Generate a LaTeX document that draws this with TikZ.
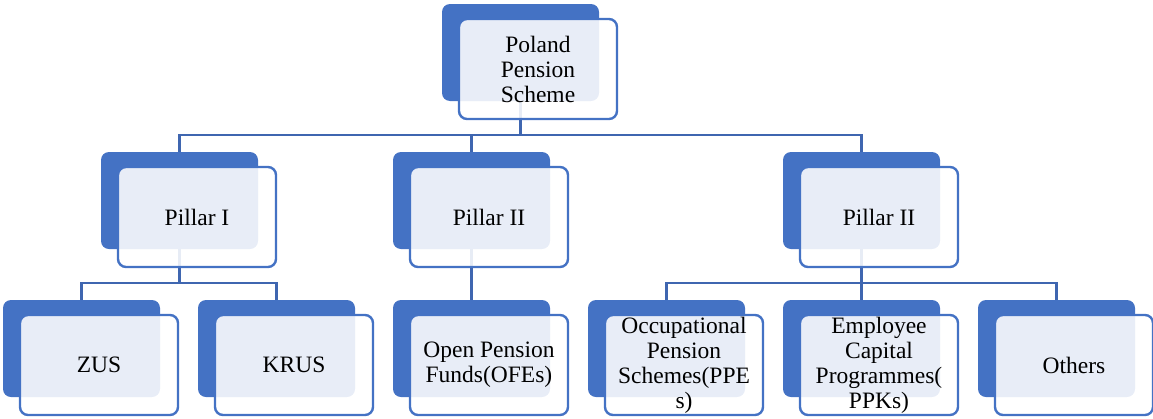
\documentclass[tikz,border=0pt]{standalone}
\usepackage{fontspec}
\setmainfont{Liberation Serif}
\begin{document}
\definecolor{accent}{HTML}{4472C4}
\definecolor{linkblue}{HTML}{3F66B0}
\begin{tikzpicture}[x=1pt,y=-1pt,
  backbox/.style={rectangle, rounded corners=8pt, fill=accent,
    minimum width=157pt, minimum height=97pt, inner sep=0pt, outer sep=0pt},
  frontbox/.style={rectangle, rounded corners=8pt, draw=accent, line width=2.4pt,
    fill=white, fill opacity=0.88, text opacity=1,
    minimum width=158pt, minimum height=100pt, inner sep=0pt, outer sep=0pt,
    align=center, font=\fontsize{23.5}{25}\selectfont},
  link/.style={draw=linkblue, line width=2.4pt}]
\useasboundingbox (0,0) rectangle (1153,418);

% back plates
\node[backbox] (top-b) at (520.5,52.5) {};
\node[backbox] (p1-b) at (179.5,200.5) {};
\node[backbox] (p2-b) at (471.5,200.5) {};
\node[backbox] (p3-b) at (861.5,200.5) {};
\node[backbox] (zus-b) at (81.5,348.5) {};
\node[backbox] (krus-b) at (276.5,348.5) {};
\node[backbox] (ofe-b) at (471.5,348.5) {};
\node[backbox] (ppe-b) at (666.5,348.5) {};
\node[backbox] (ppk-b) at (861.5,348.5) {};
\node[backbox] (oth-b) at (1056.5,348.5) {};

% connectors
\draw[link] (top-b.south) -- (top-b.south |- 0,135) -| (p1-b.north);
\draw[link] (top-b.south |- 0,135) -| (p2-b.north);
\draw[link] (top-b.south |- 0,135) -| (p3-b.north);
\draw[link] (p1-b.south) -- (p1-b.south |- 0,283) -| (zus-b.north);
\draw[link] (p1-b.south |- 0,283) -| (krus-b.north);
\draw[link] (p2-b.south) -- (ofe-b.north);
\draw[link] (p3-b.south) -- (p3-b.south |- 0,283) -| (ppe-b.north);
\draw[link] (p3-b.south |- 0,283) -| (oth-b.north);
\draw[link] (p3-b.south |- 0,283) -- (ppk-b.north);

% front cards with labels
\node[frontbox] (top) at ([shift={(17.5,16.5)}]top-b.center) {Poland\\Pension\\Scheme};
\node[frontbox] (p1) at ([shift={(17.5,16.5)}]p1-b.center) {Pillar I};
\node[frontbox] (p2) at ([shift={(17.5,16.5)}]p2-b.center) {Pillar II};
\node[frontbox] (p3) at ([shift={(17.5,16.5)}]p3-b.center) {Pillar II};
\node[frontbox] (zus) at ([shift={(17.5,16.5)}]zus-b.center) {ZUS};
\node[frontbox] (krus) at ([shift={(17.5,16.5)}]krus-b.center) {KRUS};
\node[frontbox] (ofe) at ([shift={(17.5,16.5)}]ofe-b.center) {Open Pension\\Funds(OFEs)};
\node[frontbox] (ppe) at ([shift={(17.5,16.5)}]ppe-b.center) {Occupational\\Pension\\Schemes(PPE\\s)};
\node[frontbox] (ppk) at ([shift={(17.5,16.5)}]ppk-b.center) {Employee\\Capital\\Programmes(\\PPKs)};
\node[frontbox] (oth) at ([shift={(17.5,16.5)}]oth-b.center) {Others};
\end{tikzpicture}
\end{document}
